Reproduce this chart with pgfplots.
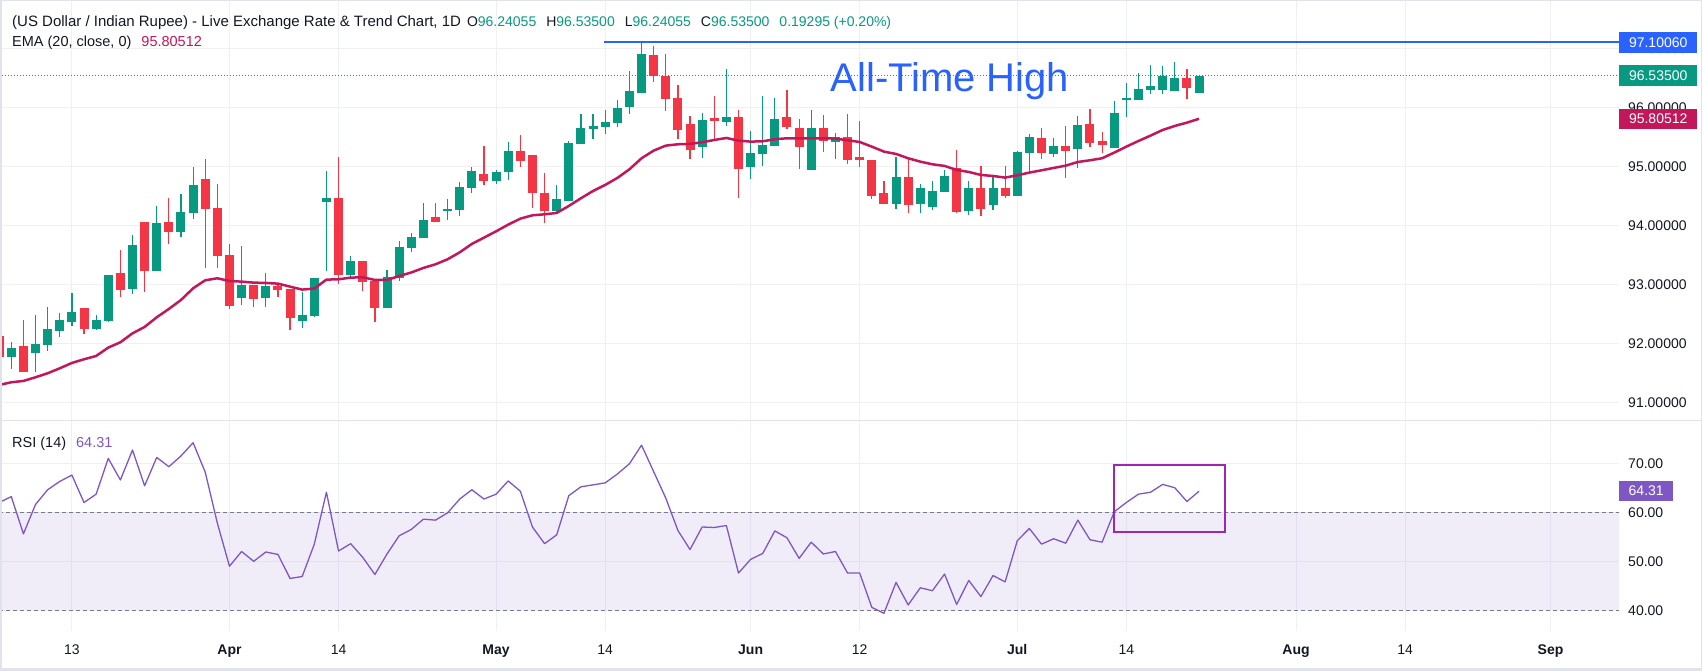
\documentclass[border=0pt]{standalone}
\usepackage{pgfplots}
\usepackage{pgfplotstable}
\pgfplotsset{compat=1.18}
\usepackage{fontspec}
\setmainfont{Liberation Sans}
\definecolor{tvgreen}{HTML}{089981}
\definecolor{tvred}{HTML}{F23645}
\definecolor{emac}{HTML}{C2185B}
\definecolor{atblue}{HTML}{2962FF}
\definecolor{rsic}{HTML}{7E57C2}
\definecolor{boxpur}{HTML}{9C27B0}
\definecolor{txt}{HTML}{131722}
\definecolor{gridc}{HTML}{EEF0F6}
\definecolor{dashc}{HTML}{787B86}
\definecolor{sepc}{HTML}{E0E3EB}
\newcommand{\fs}{\fontsize{14}{16}\selectfont}
\newcommand{\fh}{\fontsize{15}{17}\selectfont}

\pgfplotstableread{
k O H L C
1 91.774 92.023 91.571 91.921
3 91.842 92.480 91.520 91.989
4 91.977 92.616 91.876 92.243
5 92.215 92.514 92.113 92.395
6 92.367 92.853 92.299 92.531
8 92.249 92.480 92.232 92.395
9 92.384 93.158 92.367 93.158
11 92.927 93.836 92.842 93.667
13 93.232 94.328 93.232 94.040
15 93.893 94.531 93.808 94.226
16 94.215 94.989 94.113 94.684
20 92.774 93.650 92.655 92.989
22 92.774 93.192 92.621 92.972
25 92.384 92.870 92.266 92.480
26 92.469 93.107 92.452 93.107
27 94.401 94.921 93.232 94.469
29 93.164 93.480 93.096 93.395
32 92.605 93.243 92.605 93.124
33 93.113 93.734 93.062 93.633
34 93.621 93.870 93.554 93.802
35 93.791 94.379 93.791 94.090
37 94.249 94.446 94.096 94.277
38 94.266 94.734 94.164 94.650
39 94.638 94.989 94.554 94.921
41 94.757 94.938 94.706 94.904
42 94.910 95.412 94.774 95.260
46 94.249 94.684 94.232 94.446
47 94.418 95.429 94.418 95.395
48 95.384 95.887 95.384 95.650
49 95.638 95.887 95.469 95.684
50 95.672 95.955 95.554 95.751
51 95.740 96.124 95.672 95.989
52 96.011 96.616 95.893 96.277
53 96.249 97.107 96.249 96.904
58 95.333 95.904 95.147 95.785
60 95.757 96.650 95.689 95.836
62 94.994 95.599 94.791 95.226
63 95.215 96.192 95.011 95.362
64 95.350 96.158 95.350 95.802
67 94.944 95.955 94.944 95.650
69 95.418 95.565 95.130 95.497
74 94.367 95.158 94.282 94.819
76 94.367 94.701 94.215 94.633
77 94.316 94.751 94.266 94.582
78 94.571 94.938 94.571 94.836
80 94.249 94.751 94.181 94.633
82 94.350 94.836 94.266 94.633
84 94.503 95.260 94.503 95.243
85 95.232 95.548 94.876 95.497
87 95.215 95.480 95.164 95.345
89 95.299 95.853 94.977 95.701
92 95.316 96.107 95.316 95.904
93 96.130 96.412 95.842 96.147
94 96.130 96.582 96.130 96.311
95 96.299 96.718 96.232 96.362
96 96.299 96.701 96.232 96.531
97 96.282 96.768 96.282 96.497
99 96.24055 96.535 96.24055 96.535
}\greenC

\pgfplotstableread{
k O H L C
0 92.124 92.124 91.774 91.774
2 91.955 92.395 91.520 91.520
7 92.599 92.599 92.164 92.249
10 93.192 93.582 92.791 92.910
12 94.056 94.056 92.876 93.232
14 94.056 94.463 93.689 93.893
17 94.785 95.124 93.282 94.282
18 94.294 94.701 93.282 93.486
19 93.497 93.684 92.588 92.638
21 92.989 92.989 92.621 92.757
23 92.972 93.023 92.791 92.910
24 92.921 92.921 92.232 92.435
28 94.463 95.158 93.011 93.164
30 93.395 93.395 92.893 93.045
31 93.062 93.062 92.367 92.605
36 94.141 94.379 94.062 94.062
40 94.870 95.345 94.689 94.757
43 95.260 95.531 94.994 95.096
44 95.192 95.192 94.299 94.554
45 94.548 94.887 94.045 94.249
54 96.887 97.040 96.435 96.537
55 96.531 96.904 95.944 96.147
56 96.158 96.379 95.469 95.621
57 95.718 95.853 95.130 95.282
59 95.819 96.192 95.469 95.774
61 95.836 95.955 94.469 94.960
65 95.836 96.294 95.638 95.672
66 95.650 95.802 94.960 95.333
68 95.650 95.870 95.249 95.435
70 95.497 95.887 95.045 95.113
71 95.158 95.768 94.994 95.113
72 95.113 95.113 94.452 94.503
73 94.548 94.751 94.367 94.367
75 94.819 95.141 94.215 94.350
79 94.972 95.277 94.215 94.232
81 94.633 95.006 94.164 94.282
83 94.633 95.006 94.469 94.503
86 95.480 95.650 95.130 95.232
88 95.345 95.684 94.808 95.266
90 95.718 95.972 95.333 95.401
91 95.429 95.582 95.232 95.367
98 96.497 96.650 96.147 96.333
}\redC

\begin{document}
\begin{tikzpicture}[x=1pt,y=1pt]
\useasboundingbox (0,0) rectangle (1702,671);
\fill[white] (0,0) rectangle (1702,671);

% ---------------- main price pane ----------------
\begin{axis}[
  at={(0pt,250pt)}, anchor=south west, scale only axis,
  width=1619pt, height=421pt,
  xmin=0.0677, xmax=133.65, ymin=90.683, ymax=97.8186,
  axis line style={draw=none}, major tick length=0pt,
  xtick={6,19,28,41,50,62,71,84,93,107,116,128}, xticklabels={},
  ytick={91,92,93,94,95,96,97},
  yticklabels={91.00000,92.00000,93.00000,94.00000,95.00000,96.00000,97.00000},
  yticklabel pos=right,
  yticklabel style={anchor=west, inner sep=0pt, xshift=9pt, font=\fs, text=txt},
  grid=major, major grid style={draw=gridc, line width=1pt},
  candle/.style={draw=none, mark=none, forget plot,
    error bars/.cd, y dir=plus, y explicit, error mark=none},
]
\addplot[tvgreen, dash pattern=on 1pt off 2pt, line width=1pt, forget plot]
  coordinates {(0,96.535) (134,96.535)};
\addplot[atblue, line width=2pt, forget plot]
  coordinates {(49.9,97.1006) (134,97.1006)};
% wicks
\addplot[candle, error bar style={draw=tvgreen, line width=1.2pt}]
  table[x=k, y=L, y error expr={\thisrow{H}-\thisrow{L}}] {\greenC};
\addplot[candle, error bar style={draw=tvred, line width=1.2pt}]
  table[x=k, y=L, y error expr={\thisrow{H}-\thisrow{L}}] {\redC};
% bodies
\addplot[candle, error bar style={draw=tvgreen, line width=9pt}]
  table[x=k, y=O, y error expr={max(\thisrow{C}-\thisrow{O},0.02)}] {\greenC};
\addplot[candle, error bar style={draw=tvred, line width=9pt}]
  table[x=k, y=C, y error expr={max(\thisrow{O}-\thisrow{C},0.02)}] {\redC};
% EMA 20
\addplot[emac, line width=2.5pt, line join=round, mark=none] coordinates {
(0,91.294) (1,91.339) (2,91.362) (3,91.424) (4,91.492) (5,91.576) (6,91.667) (7,91.729)
(8,91.785) (9,91.927) (10,92.017) (11,92.169) (12,92.277) (13,92.441) (14,92.582) (15,92.734)
(16,92.932) (17,93.068) (18,93.102) (19,93.056) (20,93.045) (21,93.028) (22,93.023) (23,93.011)
(24,92.960) (25,92.910) (26,92.927) (27,93.079) (28,93.085) (29,93.113) (30,93.119) (31,93.073)
(32,93.073) (33,93.140) (34,93.200) (35,93.277) (36,93.339) (37,93.424) (38,93.542) (39,93.684)
(40,93.791) (41,93.898) (42,94.011) (43,94.113) (44,94.169) (45,94.186) (46,94.209) (47,94.328)
(48,94.458) (49,94.582) (50,94.684) (51,94.802) (52,94.949) (53,95.136) (54,95.266) (55,95.350)
(56,95.373) (57,95.379) (58,95.407) (59,95.446) (60,95.480) (61,95.435) (62,95.418) (63,95.424)
(64,95.458) (65,95.475) (66,95.475) (67,95.472) (68,95.475) (69,95.469) (70,95.441) (71,95.412)
(72,95.333) (73,95.249) (74,95.209) (75,95.136) (76,95.079) (77,95.034) (78,95.006) (79,94.938)
(80,94.904) (81,94.853) (82,94.836) (83,94.808) (84,94.847) (85,94.893) (86,94.932) (87,94.972)
(88,95.011) (89,95.073) (90,95.102) (91,95.136) (92,95.232) (93,95.333) (94,95.429) (95,95.520)
(96,95.616) (97,95.684) (98,95.740) (99,95.80512)};
\node[anchor=base, text=atblue, inner sep=0pt, font=\fontsize{40}{44}\selectfont]
  at (axis cs:78.45,96.264) {All-Time High};
\coordinate (bl) at (axis cs:133.65,97.1006);
\coordinate (gl) at (axis cs:133.65,96.535);
\coordinate (el) at (axis cs:133.65,95.80512);
\end{axis}

% ---------------- RSI pane ----------------
\begin{axis}[
  at={(0pt,40pt)}, anchor=south west, scale only axis,
  width=1619pt, height=210pt,
  xmin=0.0677, xmax=133.65, ymin=35.78, ymax=78.63,
  axis line style={draw=none}, major tick length=0pt,
  xtick={6,19,28,41,50,62,71,84,93,107,116,128},
  xticklabels={13,\textbf{Apr},14,\textbf{May},14,\textbf{Jun},12,\textbf{Jul},14,\textbf{Aug},14,\textbf{Sep}},
  xticklabel style={anchor=base, yshift=-24pt, font=\fs, text=txt},
  ytick={40,50,60,70}, yticklabels={40.00,50.00,60.00,70.00},
  yticklabel pos=right,
  yticklabel style={anchor=west, inner sep=0pt, xshift=9pt, font=\fs, text=txt},
  grid=major, major grid style={draw=gridc, line width=1pt},
]
\fill[rsic, fill opacity=0.1] (axis cs:0,40) rectangle (axis cs:134,60);
\addplot[dashc, dash pattern=on 4pt off 3pt, line width=1pt, forget plot]
  coordinates {(0,60) (134,60)};
\addplot[dashc, dash pattern=on 4pt off 3pt, line width=1pt, forget plot]
  coordinates {(0,40) (134,40)};
\addplot[rsic, line width=1.3pt, line join=round, mark=none] coordinates {
(0,62.0) (1,63.2) (2,55.6) (3,61.6) (4,64.6) (5,66.3) (6,67.6) (7,62.0) (8,63.7) (9,71.0)
(10,66.6) (11,72.7) (12,65.4) (13,71.2) (14,69.3) (15,71.5) (16,74.2) (17,68.2) (18,57.8) (19,49.0)
(20,52.0) (21,50.0) (22,51.9) (23,51.4) (24,46.5) (25,46.9) (26,53.5) (27,64.1) (28,52.1) (29,53.6)
(30,50.8) (31,47.3) (32,51.5) (33,55.2) (34,56.5) (35,58.6) (36,58.4) (37,59.9) (38,62.7) (39,64.6)
(40,62.7) (41,63.7) (42,66.4) (43,64.3) (44,57.0) (45,53.6) (46,55.4) (47,63.4) (48,65.2) (49,65.6)
(50,66.0) (51,67.8) (52,69.9) (53,73.7) (54,68.3) (55,62.9) (56,56.3) (57,52.4) (58,57.0) (59,56.9)
(60,57.3) (61,47.6) (62,50.4) (63,51.6) (64,56.2) (65,54.8) (66,50.6) (67,53.9) (68,51.5) (69,52.0)
(70,47.6) (71,47.6) (72,40.6) (73,39.4) (74,45.7) (75,41.1) (76,44.6) (77,44.0) (78,47.4) (79,41.2)
(80,46.1) (81,42.8) (82,47.1) (83,45.8) (84,54.2) (85,56.7) (86,53.5) (87,54.6) (88,53.7) (89,58.4)
(90,54.4) (91,53.9) (92,60.1) (93,62.0) (94,63.7) (95,64.1) (96,65.7) (97,65.0) (98,62.2) (99,64.31)};
\draw[boxpur, line width=2pt] (axis cs:91.95,56.0) rectangle (axis cs:101.1,69.7);
\coordinate (rl) at (axis cs:133.65,64.31);
\end{axis}

% ---------------- labels on the price scales ----------------
\node[fill=atblue, text=white, anchor=west, minimum width=78pt, minimum height=20.5pt, inner sep=0pt, font=\fs] at (bl) {97.10060};
\node[fill=tvgreen, text=white, anchor=west, minimum width=78pt, minimum height=20.5pt, inner sep=0pt, font=\fs] at (gl) {96.53500};
\node[fill=emac, text=white, anchor=west, minimum width=78pt, minimum height=20.5pt, inner sep=0pt, font=\fs] at (el) {95.80512};
\node[fill=rsic, text=white, anchor=west, minimum width=54pt, minimum height=20pt, inner sep=0pt, font=\fs] at (rl) {64.31};

% ---------------- legends ----------------
\node[anchor=base west, inner sep=0pt, text=txt] at (12,644.5)
 {\fh(US Dollar / Indian Rupee) - Live Exchange Rate \& Trend Chart, 1D\fs\hspace{6pt}O\textcolor{tvgreen}{96.24055}\hspace{10pt}H\textcolor{tvgreen}{96.53500}\hspace{10pt}L\textcolor{tvgreen}{96.24055}\hspace{10pt}C\textcolor{tvgreen}{96.53500}\hspace{10pt}\textcolor{tvgreen}{0.19295 (+0.20\%)}};
\node[anchor=base west, inner sep=0pt, text=txt] at (12,624.5)
 {\fontsize{14.5}{16}\selectfont EMA (20, close, 0)\hspace{10pt}\textcolor{emac}{95.80512}};
\node[anchor=base west, inner sep=0pt, text=txt] at (12,223.5)
 {\fontsize{14.5}{16}\selectfont RSI (14)\hspace{10pt}\textcolor{rsic}{64.31}};

% ---------------- separators and frame ----------------
\draw[sepc, line width=1pt] (0,250) -- (1702,250);
\draw[sepc, line width=3pt] (0,0) rectangle (1702,671);
\fill[sepc] (0,0) rectangle (1702,3);
\end{tikzpicture}
\end{document}
